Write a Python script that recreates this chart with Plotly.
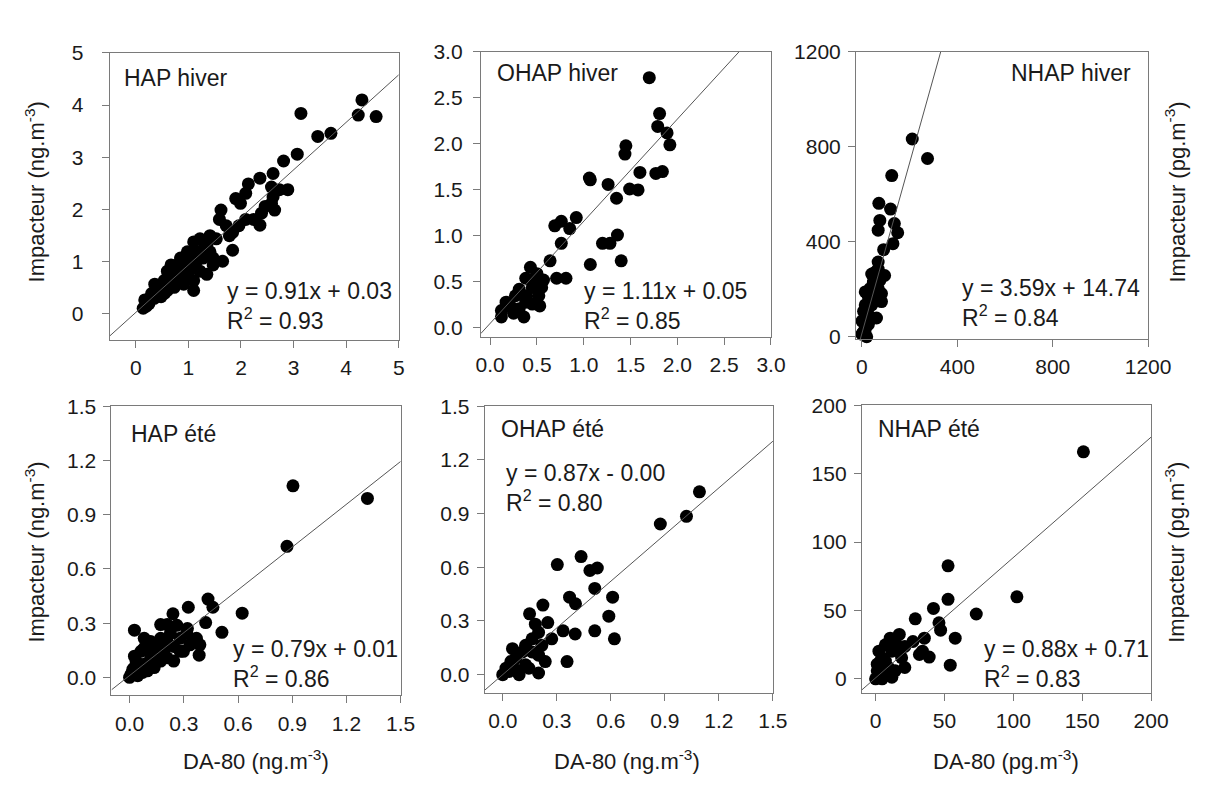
import plotly.graph_objects as go

W, H = 1218, 794

# ---------------- data ----------------
hap_hiver_x = [4.30, 3.14, 4.23, 4.57, 3.46, 3.71, 3.07, 2.81, 2.61, 2.36, 2.14, 2.09, 1.90, 1.99,
               2.58, 2.89, 2.73, 2.61, 2.64, 2.58, 2.46, 2.39, 2.36, 2.24, 2.09, 1.96, 1.84, 1.62,
               1.59, 1.72, 1.78, 1.84, 1.41, 1.22, 1.10, 1.65, 1.47, 1.41, 1.28, 1.16, 0.98, 0.85,
               0.79, 1.10, 1.10, 1.22, 1.35, 0.98, 0.91, 0.60, 0.54, 0.73, 0.48, 0.36, 0.30, 0.17,
               0.14, 0.60, 0.79, 0.67, 0.91, 1.04, 1.22, 1.35, 1.53, 1.47, 0.40, 0.50, 0.65, 0.70,
               0.82, 0.95, 1.02, 1.15, 1.30, 0.25, 0.35, 0.45, 0.75, 1.05, 1.20, 0.20, 0.55, 0.85]
hap_hiver_y = [4.10, 3.84, 3.81, 3.78, 3.40, 3.46, 3.06, 2.93, 2.69, 2.60, 2.49, 2.31, 2.21, 2.12,
               2.43, 2.38, 2.38, 2.24, 1.99, 2.12, 2.06, 1.93, 1.70, 1.81, 1.81, 1.69, 1.56, 1.99,
               1.81, 1.69, 1.50, 1.22, 1.50, 1.44, 1.38, 1.01, 0.94, 1.19, 1.07, 1.19, 1.19, 1.07,
               0.94, 0.45, 0.64, 0.82, 0.76, 0.76, 0.57, 0.82, 0.64, 0.51, 0.33, 0.57, 0.39, 0.27,
               0.11, 0.45, 0.64, 0.94, 1.01, 1.13, 1.07, 1.31, 1.44, 1.07, 0.45, 0.50, 0.60, 0.75,
               0.70, 0.90, 0.85, 1.00, 1.25, 0.20, 0.30, 0.55, 0.85, 0.95, 1.15, 0.15, 0.40, 0.80]

ohap_hiver_x = [1.70, 1.81, 1.79, 1.89, 1.92, 1.45, 1.44, 1.60, 1.77, 1.84, 1.06, 1.07, 1.26, 1.49,
                1.58, 1.35, 0.92, 0.76, 0.69, 0.85, 0.76, 1.20, 1.28, 1.36, 1.07, 1.40, 0.64, 0.71,
                0.81, 0.43, 0.50, 0.38, 0.57, 0.55, 0.45, 0.31, 0.27, 0.39, 0.53, 0.36, 0.17, 0.12,
                0.12, 0.22, 0.31, 0.45, 0.38, 0.25, 0.50, 0.43, 0.52]
ohap_hiver_y = [2.72, 2.33, 2.19, 2.12, 1.99, 1.98, 1.89, 1.69, 1.68, 1.70, 1.63, 1.61, 1.56, 1.51,
                1.50, 1.41, 1.20, 1.16, 1.11, 1.08, 0.92, 0.92, 0.92, 1.01, 0.69, 0.73, 0.73, 0.54,
                0.54, 0.66, 0.59, 0.54, 0.52, 0.44, 0.44, 0.42, 0.35, 0.35, 0.24, 0.12, 0.28, 0.19,
                0.12, 0.23, 0.21, 0.26, 0.28, 0.16, 0.50, 0.52, 0.35]

nhap_hiver_x = [211, 275, 125, 71, 120, 75, 68, 136, 150, 130, 91, 68, 68, 95, 41, 82, 82, 61,
                34, 14, 48, 14, 0, 0, 20, 27, 7, 55, 68, 41, 27, 55, 75, 27, 14, 5]
nhap_hiver_y = [833, 751, 679, 562, 538, 490, 449, 477, 438, 392, 367, 315, 285, 258, 264, 182,
                148, 79, 203, 189, 230, 134, 66, 11, 0, 52, 107, 162, 203, 134, 93, 271, 237,
                168, 32, 18]

hap_ete_x = [0.904, 1.316, 0.871, 0.434, 0.461, 0.325, 0.623, 0.240, 0.421, 0.511, 0.027, 0.320,
             0.172, 0.208, 0.370, 0.389, 0.385, 0.081, 0.117, 0.226, 0.280, 0.244, 0.244, 0.154,
             0.190, 0.063, 0.027, 0.117, 0.172, 0.081, 0.027, 0.009, 0.045, 0.000, 0.099, 0.136,
             0.208, 0.298, 0.334, 0.280, 0.136, 0.081, 0.036, 0.018, 0.072, 0.208, 0.172, 0.316,
             0.262]
hap_ete_y = [1.060, 0.990, 0.725, 0.433, 0.388, 0.388, 0.355, 0.352, 0.303, 0.249, 0.261, 0.270,
             0.292, 0.292, 0.216, 0.180, 0.123, 0.216, 0.198, 0.243, 0.216, 0.171, 0.090, 0.162,
             0.144, 0.144, 0.117, 0.108, 0.090, 0.072, 0.054, 0.018, 0.009, 0.000, 0.036, 0.054,
             0.108, 0.144, 0.180, 0.144, 0.144, 0.162, 0.090, 0.045, 0.027, 0.198, 0.216, 0.243,
             0.288]

ohap_ete_x = [1.092, 1.020, 0.875, 0.435, 0.303, 0.484, 0.525, 0.511, 0.371, 0.404, 0.610, 0.589,
              0.511, 0.620, 0.402, 0.335, 0.357, 0.223, 0.149, 0.250, 0.181, 0.272, 0.236, 0.199,
              0.163, 0.127, 0.054, 0.072, 0.018, 0.000, 0.091, 0.145, 0.199, 0.163, 0.109, 0.036,
              0.127, 0.072, 0.199, 0.217, 0.045]
ohap_ete_y = [1.022, 0.885, 0.842, 0.660, 0.615, 0.582, 0.596, 0.482, 0.433, 0.396, 0.433, 0.327,
              0.245, 0.200, 0.227, 0.245, 0.073, 0.389, 0.340, 0.291, 0.282, 0.200, 0.073, 0.009,
              0.200, 0.164, 0.145, 0.091, 0.036, 0.000, 0.000, 0.036, 0.109, 0.127, 0.127, 0.018,
              0.055, 0.027, 0.236, 0.164, 0.073]

nhap_ete_x = [150.9, 52.6, 102.6, 52.6, 42.0, 73.1, 28.8, 46.0, 47.2, 57.8, 35.4, 54.2, 27.1, 31.8,
              38.9, 34.0, 17.2, 21.2, 14.2, 11.8, 7.1, 2.4, 1.2, 7.1, 2.4, 0.0, 4.7, 11.8, 14.2,
              18.9, 16.5, 4.7, 9.4, 4.7, 8.3, 1.2, 21.2, 10.6, 3.5]
nhap_ete_y = [166.0, 82.6, 60.0, 58.1, 51.5, 47.4, 43.9, 41.0, 35.6, 29.7, 29.7, 10.0, 27.3, 17.8,
              15.9, 20.2, 32.5, 8.3, 27.3, 20.2, 24.9, 20.2, 10.7, 13.0, 3.6, 0.0, 0.0, 1.2, 5.9,
              15.4, 20.2, 15.4, 8.3, 8.3, 3.6, 5.9, 23.7, 29.7, 13.0]

panel_names = ["HAP hiver", "OHAP hiver", "NHAP hiver", "HAP été", "OHAP été", "NHAP été"]
slopes = [0.91, 1.11, 3.59, 0.79, 0.87, 0.88]
intercepts = [0.03, 0.05, 14.74, 0.01, -0.00, 0.71]
eq_labels = ["y = 0.91x + 0.03", "y = 1.11x + 0.05", "y = 3.59x + 14.74",
             "y = 0.79x + 0.01", "y = 0.87x - 0.00", "y = 0.88x + 0.71"]
r2_labels = ["0.93", "0.85", "0.84", "0.86", "0.80", "0.83"]
xs = [hap_hiver_x, ohap_hiver_x, nhap_hiver_x, hap_ete_x, ohap_ete_x, nhap_ete_x]
ys = [hap_hiver_y, ohap_hiver_y, nhap_hiver_y, hap_ete_y, ohap_ete_y, nhap_ete_y]

axis_ranges = [(-0.5, 5), (-0.1, 3.0), (-25, 1200), (-0.1, 1.5), (-0.1, 1.5), (-10, 200)]
yaxis_ranges = [(-0.5, 5), (-0.1, 3.0), (-10, 1200), (-0.1, 1.5), (-0.1, 1.5), (-10, 200)]
tick_vals = [[0, 1, 2, 3, 4, 5], [0, 0.5, 1.0, 1.5, 2.0, 2.5, 3.0], [0, 400, 800, 1200],
             [0, 0.3, 0.6, 0.9, 1.2, 1.5], [0, 0.3, 0.6, 0.9, 1.2, 1.5], [0, 50, 100, 150, 200]]
tick_fmt = ["d", ".1f", "d", ".1f", ".1f", "d"]

# ---------------- layout geometry (pixels) ----------------
boxes = [(107, 403, 42, 337), (487, 784, 41, 334), (871, 1170, 41, 336),
         (109, 405, 405, 702), (491, 786, 405, 699), (877, 1173, 404, 699)]
ylab_standoff = [14, 6, 3, 3, 3, 3]
title_pos = [("left", 121, 68), ("left", 503, 63), ("right", 1154, 63),
             ("left", 128, 433), ("left", 507, 428), ("left", 893, 428)]
eq_pos = [(226, 302), (592, 302), (978, 299), (232, 670), (512, 489), (1001, 670)]

FONT = "Liberation Sans, Arial, sans-serif"
FS = 21
AFS = 23
TXT = "#1a1a1a"
GRAY = "#7a7a7a"

fig = go.Figure()
layout = dict(width=W, height=H, margin=dict(l=0, r=0, t=0, b=0),
              paper_bgcolor="white", plot_bgcolor="white", showlegend=False,
              font=dict(family=FONT, size=FS, color=TXT))
annotations = []

for i in range(6):
    k = "" if i == 0 else str(i + 1)
    x0, x1, y0, y1 = boxes[i]
    xd = [x0 / W, x1 / W]
    yd = [1 - y1 / H, 1 - y0 / H]
    common = dict(showline=True, linecolor=GRAY, linewidth=1, mirror=True,
                  ticks="outside", ticklen=7, tickcolor=GRAY, tickwidth=1,
                  showgrid=False, zeroline=False, tickfont=dict(size=FS, family=FONT, color=TXT),
                  tickvals=tick_vals[i], tickformat=tick_fmt[i])
    layout["xaxis" + k] = dict(domain=xd, range=list(axis_ranges[i]), anchor="y" + k,
                               ticklabelstandoff=2, **common)
    layout["yaxis" + k] = dict(domain=yd, range=list(yaxis_ranges[i]), anchor="x" + k,
                               ticklabelstandoff=ylab_standoff[i], **common)

    fig.add_trace(go.Scatter(x=xs[i], y=ys[i], mode="markers", xaxis="x" + k, yaxis="y" + k,
                             marker=dict(color="black", size=13, line=dict(width=0)),
                             cliponaxis=False))
    lx = [axis_ranges[i][0], axis_ranges[i][1]]
    ly = [slopes[i] * v + intercepts[i] for v in lx]
    fig.add_trace(go.Scatter(x=lx, y=ly, mode="lines", xaxis="x" + k, yaxis="y" + k,
                             line=dict(color="#555555", width=1)))

    anc, tx, ty = title_pos[i]
    annotations.append(dict(text=panel_names[i], xref="paper", yref="paper",
                            x=tx / W, y=1 - ty / H, xanchor=anc, yanchor="middle",
                            showarrow=False, borderpad=0,
                            font=dict(size=AFS, family=FONT, color=TXT)))
    ex, ey = eq_pos[i]
    annotations.append(dict(text=eq_labels[i] + "<br>R<sup>2</sup> = " + r2_labels[i],
                            xref="paper", yref="paper", x=ex / W, y=1 - ey / H,
                            xanchor="left", yanchor="middle", align="left", borderpad=0,
                            showarrow=False, font=dict(size=AFS, family=FONT, color=TXT)))

# axis titles
ytitle_ng = "Impacteur (ng.m<sup>-3</sup>)"
ytitle_pg = "Impacteur (pg.m<sup>-3</sup>)"
for yc in [185, 555]:
    annotations.append(dict(text=ytitle_ng, xref="paper", yref="paper", x=31 / W, y=1 - yc / H,
                            xanchor="center", yanchor="middle", textangle=-90, showarrow=False,
                            font=dict(size=22, family=FONT, color=TXT)))
    annotations.append(dict(text=ytitle_pg, xref="paper", yref="paper", x=1198 / W, y=1 - yc / H,
                            xanchor="center", yanchor="middle", textangle=-90, showarrow=False,
                            font=dict(size=22, family=FONT, color=TXT)))
xtitles = ["DA-80 (ng.m<sup>-3</sup>)", "DA-80 (ng.m<sup>-3</sup>)", "DA-80 (pg.m<sup>-3</sup>)"]
for xc, t in zip([257, 637, 1025], xtitles):
    annotations.append(dict(text=t, xref="paper", yref="paper", x=xc / W, y=1 - 768 / H,
                            xanchor="center", yanchor="middle", showarrow=False,
                            font=dict(size=22, family=FONT, color=TXT)))

layout["annotations"] = annotations
fig.update_layout(**layout)
fig.write_html("out.html", config={"displayModeBar": False},
               post_script="document.body.style.margin='0';document.body.style.overflow='hidden';")
